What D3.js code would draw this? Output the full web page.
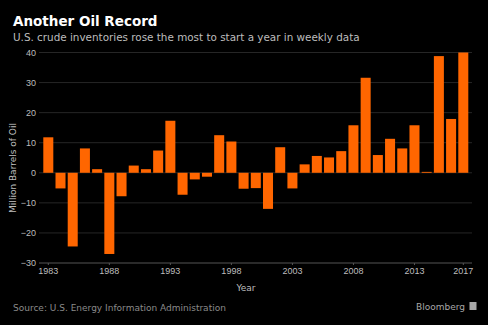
<!DOCTYPE html>
<html lang="en">
<head>
    <meta charset="UTF-8">
    <title>Another Oil Record</title>
    <script src="https://d3js.org/d3.v7.min.js"></script>
    <style>
        body {
            margin: 0;
            background: #000;
            font-family: 'DejaVu Sans', Verdana, sans-serif;
        }
        .title { fill: #fff; font-weight: bold; font-size: 13.5px; }
        .subtitle { fill: #bdbdbd; font-size: 10.4px; }
        .tick text { fill: #bdbdbd; font-size: 9px; }
        .axis-label { fill: #bdbdbd; font-size: 9px; }
        .source { fill: #8a8a8a; font-size: 9px; }
        .brand { fill: #a8a8a8; font-size: 9px; }
    </style>
</head>
<body>
    <div id="chart"></div>

    <script>
        // change in crude inventories at the start of each year
        const years = d3.range(1983, 2018);
        const changes = [11.8, -5.2, -24.5, 8.1, 1.2, -27, -7.8, 2.4, 1.2, 7.4,
            17.3, -7.3, -2.2, -1.3, 12.5, 10.4, -5.3, -5.1, -12, 8.5,
            -5.2, 2.8, 5.6, 5.1, 7.2, 15.8, 31.6, 5.9, 11.3, 8.1,
            15.8, 0.3, 38.8, 17.9, 40];
        const yTicks = [-30, -20, -10, 0, 10, 20, 30, 40];
        const xTickYears = [1983, 1988, 1993, 1998, 2003, 2008, 2013, 2017];

        const width = 488;
        const height = 325;
        const margin = {top: 52.5, right: 16, bottom: 62, left: 40};

        const svg = d3.select("#chart")
            .append("svg")
            .attr("width", width)
            .attr("height", height);

        svg.append("text").attr("class", "title")
            .attr("x", 13).attr("y", 26)
            .text("Another Oil Record");
        svg.append("text").attr("class", "subtitle")
            .attr("x", 13).attr("y", 41)
            .text("U.S. crude inventories rose the most to start a year in weekly data");

        const x = d3.scaleBand()
            .domain(years)
            .range([42.2, 469.4])
            .paddingInner(0.18)
            .paddingOuter(0.09);

        const y = d3.scaleLinear()
            .domain([-30, 40])
            .range([height - margin.bottom, margin.top]);

        // grid lines
        svg.append("g")
            .selectAll("line")
            .data(yTicks.filter(d => d > -30))
            .join("line")
            .attr("x1", 39).attr("x2", 472)
            .attr("y1", d => y(d)).attr("y2", d => y(d))
            .attr("stroke", "#262626")
            .attr("stroke-width", 1);

        // y axis labels
        const yAxis = svg.append("g")
            .attr("transform", `translate(36,0)`)
            .call(d3.axisLeft(y).tickValues(yTicks).tickSize(0).tickPadding(0));
        yAxis.select(".domain").remove();

        // bars
        svg.append("g")
            .selectAll("rect")
            .data(years.map((yr, i) => ({year: yr, value: changes[i]})))
            .join("rect")
            .attr("x", d => x(d.year))
            .attr("width", x.bandwidth())
            .attr("y", d => y(Math.max(0, d.value)))
            .attr("height", d => Math.max(0.8, Math.abs(y(d.value) - y(0))))
            .attr("fill", "#ff6600");

        // bottom axis
        svg.append("line")
            .attr("x1", 39).attr("x2", 472)
            .attr("y1", y(-30)).attr("y2", y(-30))
            .attr("stroke", "#555");

        const xAxis = svg.append("g")
            .attr("transform", `translate(0,${y(-30)})`)
            .call(d3.axisBottom(x).tickValues(xTickYears).tickSize(2).tickPadding(3));
        xAxis.select(".domain").remove();
        xAxis.selectAll(".tick line").attr("stroke", "#555");

        svg.append("text").attr("class", "axis-label")
            .attr("x", 246).attr("y", 291)
            .attr("text-anchor", "middle")
            .text("Year");

        svg.append("text").attr("class", "axis-label")
            .attr("transform", "translate(16,168) rotate(-90)")
            .attr("text-anchor", "middle")
            .text("Million Barrels of Oil");

        svg.append("text").attr("class", "source")
            .attr("x", 13).attr("y", 311)
            .text("Source: U.S. Energy Information Administration");

        svg.append("text").attr("class", "brand")
            .attr("x", 465).attr("y", 309.5)
            .attr("text-anchor", "end")
            .text("Bloomberg");
        svg.append("rect")
            .attr("x", 469.5).attr("y", 302)
            .attr("width", 7).attr("height", 8)
            .attr("fill", "#a8a8a8");
    </script>
</body>
</html>
